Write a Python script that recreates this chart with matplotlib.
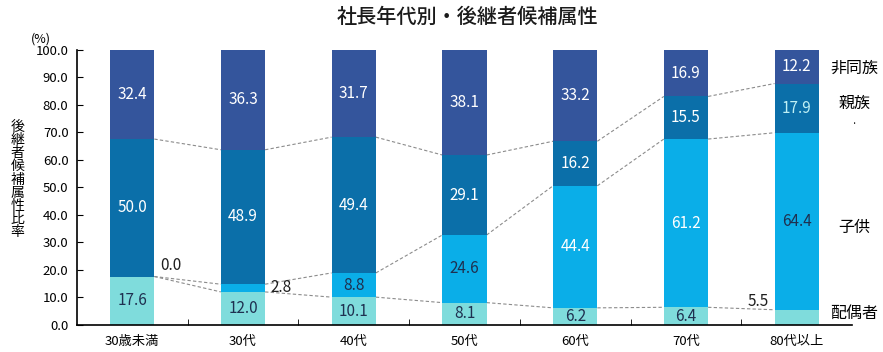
import numpy as np
import matplotlib.pyplot as plt

plt.rcParams['font.family'] = ['Noto Sans CJK JP', 'DejaVu Sans']

categories = ["30歳未満", "30代", "40代", "50代", "60代", "70代", "80代以上"]
spouse = [17.6, 12.0, 10.1, 8.1, 6.2, 6.4, 5.5]
child = [0.0, 2.8, 8.8, 24.6, 44.4, 61.2, 64.4]
relative = [50.0, 48.9, 49.4, 29.1, 16.2, 15.5, 17.9]
non_family = [32.4, 36.3, 31.7, 38.1, 33.2, 16.9, 12.2]
series_names = ["配偶者", "子供", "親族", "非同族"]

colors = ["#7fdcdc", "#0aaee8", "#0b6fa9", "#34559c"]
# label colour for each series, per bar
text_colors = [
    ["#1f3050"] * 7,
    ["#1f3050", "#1f3050", "#1f3050", "#1f3050", "white", "white", "#1f3050"],
    ["white"] * 6 + ["#bff0f5"],
    ["white"] * 7,
]

x = np.arange(len(categories))
w = 0.4
data = [spouse, child, relative, non_family]

fig = plt.figure(figsize=(8.83, 3.52), dpi=100)
ax = fig.add_axes([0.087, 0.077, 0.878, 0.781])

bottom = np.zeros(len(x))
tops = []
for k, vals in enumerate(data):
    vals = np.array(vals)
    ax.bar(x, vals, w, bottom=bottom, color=colors[k], zorder=2)
    for i, v in enumerate(vals):
        if v < 5.8:
            continue
        ax.text(x[i], bottom[i] + v / 2, f"{v:.1f}", ha="center", va="center",
                fontsize=11, color=text_colors[k][i], zorder=3)
    bottom = bottom + vals
    tops.append(bottom.copy())

# small values placed outside the bars
ax.text(x[0] + w / 2 + 0.05, tops[1][0] + 4, f"{child[0]:.1f}", ha="left", va="center",
        fontsize=11, color="#1f1f1f")
ax.text(x[1] + w / 2 + 0.05, tops[0][1] + 1.5, f"{child[1]:.1f}", ha="left", va="center",
        fontsize=11, color="#1f1f1f")
ax.text(x[6] - w / 2 - 0.05, spouse[6] + 3, f"{spouse[6]:.1f}", ha="right", va="center",
        fontsize=11, color="#1f1f1f")

# series lines between bars
for t in tops[:3]:
    for i in range(len(x) - 1):
        ax.plot([x[i] + w / 2, x[i + 1] - w / 2], [t[i], t[i + 1]], ls=(0, (3, 2)),
                color="#8c8c8c", lw=0.8, zorder=1)

ax.set_xlim(-0.5, len(x) - 0.5)
ax.set_ylim(0, 100)
ax.set_yticks(np.arange(0, 101, 10))
ax.set_yticklabels([f"{v:.1f}" for v in np.arange(0, 101, 10)], fontsize=9.5)
ax.set_xticks(x)
ax.set_xticklabels(categories, fontsize=9.5)
ax.set_xticks(np.arange(0.5, len(x) - 1, 1), minor=True)
ax.tick_params(axis="x", which="major", length=0, pad=7)
ax.tick_params(axis="x", which="minor", direction="in", length=4)
ax.tick_params(axis="y", direction="in", length=4, pad=6)
for s in ["top", "right"]:
    ax.spines[s].set_visible(False)
ax.spines["left"].set_linewidth(1.2)
ax.spines["bottom"].set_linewidth(1.2)

# right-side series names
label_y = [4, 35.5, 80.5, 93.5]
for name, yy in zip(series_names, label_y):
    ax.text(6.52, yy, name, ha="center", va="center", fontsize=11.5, clip_on=False, zorder=4)
ax.text(6.52, 73, "·", ha="center", va="center", fontsize=7, clip_on=False)

fig.text(0.529, 0.952, "社長年代別・後継者候補属性", ha="center", va="center", fontsize=14.5,
         fontweight="medium", color="#1a1a1a")
fig.text(0.046, 0.89, "(%)", ha="center", va="center", fontsize=9)
fig.text(0.02, 0.49, "\n".join("後継者候補属性比率"), ha="center", va="center",
         fontsize=10, linespacing=0.92)

fig.savefig("out.png", dpi=100)
